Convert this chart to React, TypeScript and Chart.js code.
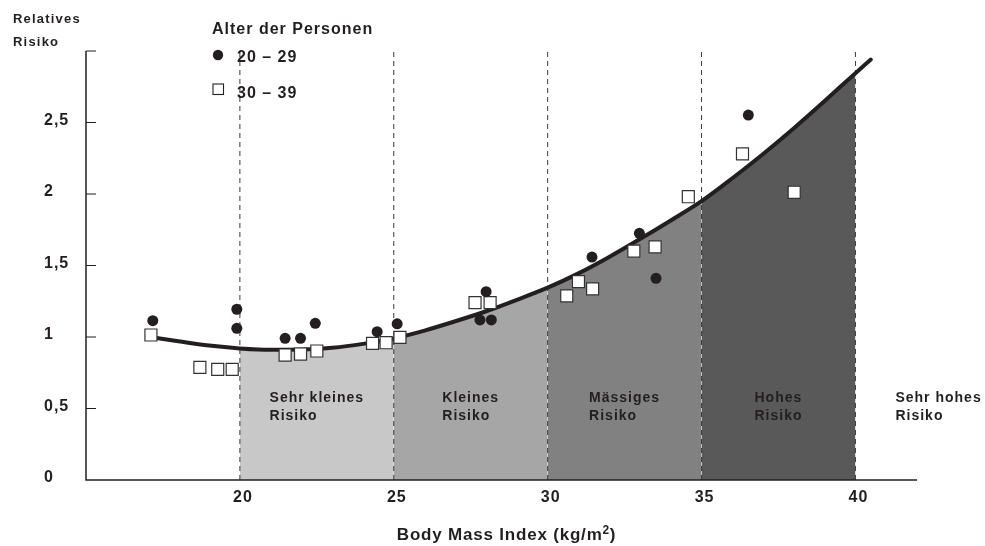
import React, { useEffect, useRef } from 'react';
import { Chart, registerables } from 'chart.js';

Chart.register(...registerables);

// ---- Data ----
const xMin = 15;
const xMax = 42;
const yMax = 3;

const xTickValues = [20, 25, 30, 35, 40];
const xTickLabels = ['20', '25', '30', '35', '40'];
const yTickValues = [0, 0.5, 1, 1.5, 2, 2.5];
const yTickLabels = ['0', '0,5', '1', '1,5', '2', '2,5'];
const yTickMarks = [0.5, 1, 1.5, 2, 2.5, 3];

// fitted risk curve
const curveX = [17.1, 18, 19, 20, 21, 22, 23, 24, 25, 26, 27, 28, 29, 30, 31, 32, 33, 34, 35, 36, 37, 38, 39, 40, 40.5];
const curveY = [1.0, 0.97, 0.94, 0.92, 0.91, 0.912, 0.925, 0.952, 0.99, 1.045, 1.11, 1.18, 1.26, 1.345, 1.445, 1.56, 1.685, 1.815, 1.95, 2.11, 2.28, 2.46, 2.65, 2.845, 2.94];

// Age 20–29 (filled circles)
const age2029X = [17.17, 19.9, 19.9, 21.47, 21.97, 22.45, 24.46, 25.11, 28.0, 27.8, 28.17, 31.44, 32.98, 33.52, 36.52];
const age2029Y = [1.114, 1.194, 1.061, 0.991, 0.991, 1.096, 1.037, 1.092, 1.317, 1.119, 1.119, 1.559, 1.725, 1.41, 2.552];

// Age 30–39 (open squares)
const age3039X = [17.11, 18.7, 19.28, 19.75, 21.47, 21.97, 22.5, 24.31, 24.75, 25.2, 27.64, 28.13, 30.62, 31.0, 31.46, 32.8, 33.49, 34.57, 36.33, 38.01];
const age3039Y = [1.014, 0.788, 0.774, 0.774, 0.874, 0.881, 0.902, 0.956, 0.96, 0.998, 1.24, 1.24, 1.287, 1.387, 1.336, 1.6, 1.63, 1.981, 2.28, 2.012];

// risk bands
const bandStarts = [20, 25, 30, 35];
const bandEnds = [25, 30, 35, 40];
const bandColors = ['#c8c8c8', '#a6a6a6', '#818181', '#595959'];
const bandLabels = [
  ['Sehr kleines', 'Risiko'],
  ['Kleines', 'Risiko'],
  ['Mässiges', 'Risiko'],
  ['Hohes', 'Risiko'],
];
const lastLabel = ['Sehr hohes', 'Risiko'];

const dividerX = [20, 25, 30, 35, 40];

const legendTitle = 'Alter der Personen';
const legendItems = ['20 – 29', '30 – 39'];
const yTitle = ['Relatives', 'Risiko'];
const xTitleMain = 'Body Mass Index (kg/m';
const xTitleSup = '2';
const xTitleEnd = ')';

const INK = '#231f20';
const FONT = '"Liberation Sans", Arial, Helvetica, sans-serif';

function pts(xs: number[], ys: number[]) {
  return xs.map((x, i) => ({ x, y: ys[i] }));
}

const overlayPlugin = {
  id: 'overlay',
  afterDatasetsDraw(chart: any) {
    const { ctx } = chart;
    const xs = chart.scales.x;
    const ys = chart.scales.y;
    const px = (v: number) => xs.getPixelForValue(v);
    const py = (v: number) => ys.getPixelForValue(v);
    ctx.save();

    // axes
    ctx.strokeStyle = INK;
    ctx.lineWidth = 1.5;
    ctx.beginPath();
    ctx.moveTo(px(xMin), py(yMax));
    ctx.lineTo(px(xMin), py(0));
    ctx.lineTo(px(xMax), py(0));
    ctx.stroke();
    // inward y ticks
    ctx.lineWidth = 1.2;
    ctx.beginPath();
    yTickMarks.forEach((v) => {
      ctx.moveTo(px(xMin), py(v));
      ctx.lineTo(px(xMin) + 10, py(v));
    });
    ctx.stroke();

    ctx.fillStyle = INK;
    const setFont = (size: number, spacing: number) => {
      ctx.font = `bold ${size}px ${FONT}`;
      try { (ctx as any).letterSpacing = `${spacing}px`; } catch (e) {}
    };

    // y tick labels
    setFont(16, 1);
    ctx.textAlign = 'left';
    ctx.textBaseline = 'alphabetic';
    yTickValues.forEach((v, i) => {
      ctx.fillText(yTickLabels[i], 44, py(v) + 2);
    });

    // x tick labels
    ctx.textAlign = 'center';
    xTickValues.forEach((v, i) => {
      ctx.fillText(xTickLabels[i], px(v) + 3, py(0) + 22);
    });

    // x title with superscript
    setFont(17, 0.8);
    ctx.textAlign = 'left';
    const wMain = ctx.measureText(xTitleMain).width;
    const wEnd = ctx.measureText(xTitleEnd).width;
    setFont(12, 0.5);
    const wSup = ctx.measureText(xTitleSup).width;
    const total = wMain + wSup + wEnd;
    const cx = (chart.chartArea.left + chart.chartArea.right) / 2 + 5;
    let tx = cx - total / 2;
    const tBase = 540;
    setFont(17, 0.8);
    ctx.fillText(xTitleMain, tx, tBase);
    tx += wMain;
    setFont(12, 0.5);
    ctx.fillText(xTitleSup, tx, tBase - 6);
    tx += wSup;
    setFont(17, 0.8);
    ctx.fillText(xTitleEnd, tx, tBase);

    // y title
    setFont(13, 1.2);
    ctx.fillText(yTitle[0], 13, 23);
    ctx.fillText(yTitle[1], 13, 46);

    // legend
    setFont(16, 1);
    ctx.fillText(legendTitle, 212, 34);
    ctx.beginPath();
    ctx.arc(218, 55, 5.2, 0, Math.PI * 2);
    ctx.fill();
    ctx.fillText(legendItems[0], 237, 61.5);
    ctx.fillStyle = '#ffffff';
    ctx.fillRect(213, 84, 10.5, 10.5);
    ctx.strokeStyle = INK;
    ctx.lineWidth = 1.1;
    ctx.strokeRect(213, 84, 10.5, 10.5);
    ctx.fillStyle = INK;
    ctx.fillText(legendItems[1], 237, 97.5);

    // band labels
    setFont(14, 1);
    bandLabels.forEach((lines, i) => {
      const c = (px(bandStarts[i]) + px(bandEnds[i])) / 2;
      const w = Math.max(...lines.map((l) => ctx.measureText(l).width));
      const left = c - w / 2;
      ctx.fillText(lines[0], left, 402);
      ctx.fillText(lines[1], left, 420);
    });
    const lastLeft = px(40) + 40;
    ctx.fillText(lastLabel[0], lastLeft, 402);
    ctx.fillText(lastLabel[1], lastLeft, 420);

    ctx.restore();
  },
};

export default function App() {
  const ref = useRef<HTMLCanvasElement | null>(null);

  useEffect(() => {
    if (!ref.current) return;
    const curvePts = pts(curveX, curveY);

    const bandSets = bandStarts.map((s, i) => ({
      type: 'line' as const,
      label: `band${i}`,
      data: curvePts.filter((p) => p.x >= s && p.x <= bandEnds[i]),
      fill: 'origin',
      backgroundColor: bandColors[i],
      borderWidth: 0,
      pointRadius: 0,
      cubicInterpolationMode: 'monotone' as const,
      order: 10,
    }));

    const dividerSets = dividerX.map((d, i) => ({
      type: 'line' as const,
      label: `div${i}`,
      data: [{ x: d, y: 0 }, { x: d, y: yMax }],
      borderColor: '#3a3a3a',
      borderWidth: 1,
      borderDash: [5, 4],
      pointRadius: 0,
      fill: false,
      order: 8,
    }));

    const chart = new Chart(ref.current, {
      type: 'scatter',
      data: {
        datasets: [
          ...bandSets,
          ...dividerSets,
          {
            type: 'line',
            label: 'Kurve',
            data: curvePts,
            borderColor: INK,
            borderWidth: 4,
            pointRadius: 0,
            fill: false,
            cubicInterpolationMode: 'monotone',
            borderCapStyle: 'round',
            order: 5,
          },
          {
            label: '30 – 39',
            data: pts(age3039X, age3039Y),
            pointStyle: 'rect',
            pointRadius: 8.5,
            backgroundColor: '#ffffff',
            borderColor: '#333333',
            borderWidth: 1.2,
            order: 2,
          },
          {
            label: '20 – 29',
            data: pts(age2029X, age2029Y),
            pointStyle: 'circle',
            pointRadius: 5.5,
            backgroundColor: INK,
            borderColor: INK,
            borderWidth: 0,
            order: 1,
          },
        ] as any,
      },
      options: {
        animation: false,
        responsive: false,
        maintainAspectRatio: false,
        layout: { padding: { left: 86, right: 68, top: 51, bottom: 66 } },
        plugins: {
          legend: { display: false },
          tooltip: { enabled: false },
        },
        scales: {
          x: { type: 'linear', min: xMin, max: xMax, display: false },
          y: { type: 'linear', min: 0, max: yMax, display: false },
        },
      },
      plugins: [overlayPlugin],
    });
    return () => chart.destroy();
  }, []);

  return (
    <div style={{ position: 'fixed', left: 0, top: 0, width: 985, height: 546, background: '#ffffff' }}>
      <canvas ref={ref} width={985} height={546} style={{ display: 'block' }} />
    </div>
  );
}
